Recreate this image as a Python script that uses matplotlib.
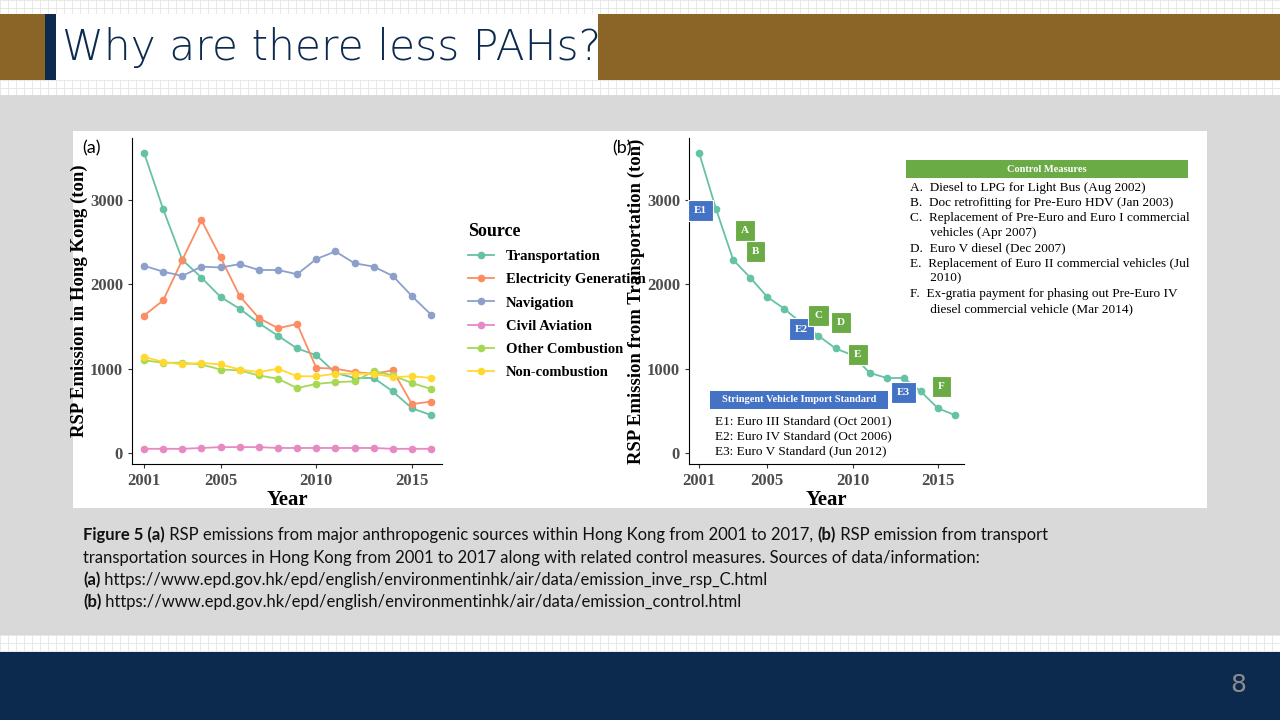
import matplotlib

matplotlib.use("Agg")
import matplotlib.pyplot as plt
from matplotlib.patches import Rectangle
from matplotlib.lines import Line2D

YEARS = list(range(2001, 2017))
TRANSPORT = [3560, 2890, 2290, 2080, 1850, 1710, 1540, 1390, 1240, 1160, 950, 890, 890, 730, 530, 450]
ELECTRICITY = [1630, 1810, 2290, 2760, 2320, 1860, 1600, 1480, 1530, 1010, 1000, 960, 940, 980, 580, 610]
NAVIGATION = [2220, 2150, 2100, 2210, 2200, 2240, 2170, 2170, 2120, 2300, 2390, 2250, 2210, 2100, 1860, 1640]
AVIATION = [50, 50, 50, 60, 70, 70, 70, 60, 60, 60, 60, 60, 60, 50, 50, 50]
OTHER_COMB = [1100, 1070, 1070, 1050, 990, 980, 920, 880, 770, 820, 840, 850, 970, 920, 830, 760]
NON_COMB = [1140, 1080, 1050, 1070, 1050, 990, 960, 1000, 910, 910, 940, 940, 940, 900, 910, 890]

SERIES = [
    ("Transportation", TRANSPORT, "#66C2A5"),
    ("Electricity Generation", ELECTRICITY, "#FC8D62"),
    ("Navigation", NAVIGATION, "#8DA0CB"),
    ("Civil Aviation", AVIATION, "#E78AC3"),
    ("Other Combustion", OTHER_COMB, "#A6D854"),
    ("Non-combustion", NON_COMB, "#FFD92F"),
]

MEASURES = ["E1", "A", "B", "E2", "C", "D", "E", "E3", "F"]
MEASURE_X = [2001.1, 2003.7, 2004.3, 2007.0, 2008.0, 2009.3, 2010.3, 2013.0, 2015.2]
MEASURE_Y = [2880, 2640, 2390, 1470, 1630, 1550, 1170, 720, 790]

CONTROL_TEXT = [
    "A.  Diesel to LPG for Light Bus (Aug 2002)",
    "B.  Doc retrofitting for Pre-Euro HDV (Jan 2003)",
    "C.  Replacement of Pre-Euro and Euro I commercial",
    "      vehicles (Apr 2007)",
    "D.  Euro V diesel (Dec 2007)",
    "E.  Replacement of Euro II commercial vehicles (Jul",
    "      2010)",
    "F.  Ex-gratia payment for phasing out Pre-Euro IV",
    "      diesel commercial vehicle (Mar 2014)",
]
IMPORT_TEXT = [
    "E1: Euro III Standard (Oct 2001)",
    "E2: Euro IV Standard (Oct 2006)",
    "E3: Euro V Standard (Jun 2012)",
]
CAPTION = [
    ("Figure 5 (a)", " RSP emissions from major anthropogenic sources within Hong Kong from 2001 to 2017, ", "(b)", " RSP emission from transport"),
    ("", "transportation sources in Hong Kong from 2001 to 2017 along with related control measures. Sources of data/information:", "", ""),
    ("(a)", " https://www.epd.gov.hk/epd/english/environmentinhk/air/data/emission_inve_rsp_C.html", "", ""),
    ("(b)", " https://www.epd.gov.hk/epd/english/environmentinhk/air/data/emission_control.html", "", ""),
]

W, H = 1280, 720
SERIF = "Liberation Serif"
GREEN = "#6AAB45"
BLUE = "#4472C4"
NAVY = "#0B2A4E"
BROWN = "#8B6428"

fig = plt.figure(figsize=(12.8, 7.2), dpi=100)
bg = fig.add_axes([0, 0, 1, 1])
bg.set_xlim(0, W)
bg.set_ylim(H, 0)
bg.axis("off")


def rect(x0, y0, x1, y1, color):
    bg.add_patch(Rectangle((x0, y0), x1 - x0, y1 - y0, color=color, lw=0, zorder=2))


# grid pattern in header / footer strips
for y0, y1 in [(0, 95), (635, 652)]:
    for x in range(0, W, 8):
        bg.plot([x, x], [y0, y1], color="#E4E4E4", lw=0.6, zorder=0)
    for y in range(y0, y1 + 1, 8):
        bg.plot([0, W], [y, y], color="#E4E4E4", lw=0.6, zorder=0)
rect(0, 95, W, 635, "#D9D9D9")
rect(0, 652, W, H, NAVY)
rect(0, 14, 45, 80, BROWN)
rect(45, 14, 56, 80, NAVY)
rect(598, 14, W, 80, BROWN)
rect(56, 14, 598, 80, "white")
bg.text(62, 47, "Why are there less PAHs?", fontsize=30.5, color=NAVY, zorder=3,
        va="center", ha="left", family="DejaVu Sans", fontweight="light")
bg.text(1238, 685, "8", fontsize=18, color="#8C8C8C", va="center", ha="center", zorder=3)
rect(73, 131, 1207, 508, "white")

# caption
renderer = fig.canvas.get_renderer()
for i, parts in enumerate(CAPTION):
    y = 535 + i * 22.5
    x = 83
    for j, part in enumerate(parts):
        if not part:
            continue
        t = bg.text(x, y, part, fontsize=12, va="center", ha="left", family="Lato", zorder=3,
                    fontweight="bold" if j % 2 == 0 else "normal", color="#111111")
        x += t.get_window_extent(renderer=renderer).width


def px_axes(x0, y0, x1, y1):
    return fig.add_axes([x0 / W, 1 - y1 / H, (x1 - x0) / W, (y1 - y0) / H])


def style(ax, xlim, ylabel):
    ax.set_xlim(*xlim)
    ax.set_ylim(-130, 3735)
    ax.patch.set_alpha(0)
    for s in ["top", "right"]:
        ax.spines[s].set_visible(False)
    ax.set_xticks([2001, 2005, 2010, 2015])
    ax.set_yticks([0, 1000, 2000, 3000])
    ax.tick_params(labelsize=12, colors="#333333", length=3)
    for lab in ax.get_xticklabels() + ax.get_yticklabels():
        lab.set_family(SERIF)
        lab.set_fontweight("bold")
        lab.set_color("#4D4D4D")
    ax.set_xlabel("Year", family=SERIF, fontweight="bold", fontsize=15, labelpad=1)
    ax.set_ylabel(ylabel, family=SERIF, fontweight="bold", fontsize=13.5, labelpad=1)


axa = px_axes(132, 138, 442, 464)
for name, vals, col in SERIES:
    axa.plot(YEARS, vals, "-o", color=col, ms=4.5, lw=1.3, label=name)
style(axa, (2000.37, 2016.57), "RSP Emission in Hong Kong (ton)")
handles = [Line2D([], [], color=c, marker="o", ms=4.5, lw=1.3) for _, _, c in SERIES]
leg = fig.legend(handles, [s[0] for s in SERIES], loc="upper left",
                 bbox_to_anchor=(455 / W, 1 - 210 / H), frameon=False, title="Source",
                 prop={"family": SERIF, "weight": "bold", "size": 10.5},
                 labelspacing=0.68, handlelength=1.8)
leg.get_title().set_fontproperties({"family": SERIF, "weight": "bold", "size": 13})
leg._legend_box.align = "left"

axb = px_axes(689, 138, 964, 464)
axb.plot(YEARS, TRANSPORT, "-o", color="#66C2A5", ms=4.5, lw=1.3)
style(axb, (2000.41, 2016.53), "RSP Emission from Transportation (ton)")
for lab, x, y in zip(MEASURES, MEASURE_X, MEASURE_Y):
    col = BLUE if lab.startswith("E") and len(lab) == 2 else GREEN
    axb.text(x, y, lab, ha="center", va="center", color="white", fontsize=8,
             family=SERIF, fontweight="bold",
             bbox=dict(boxstyle="square,pad=0.55", fc=col, ec="white", lw=0.8))

# overlay for annotation text drawn above the chart axes
top = fig.add_axes([0, 0, 1, 1])
top.set_xlim(0, W)
top.set_ylim(H, 0)
top.axis("off")
top.text(82, 148, "(a)", fontsize=13, va="center", family="Lato")
top.text(612, 148, "(b)", fontsize=13, va="center", family="Lato")
top.add_patch(Rectangle((906, 160), 282, 18, color=GREEN, lw=0))
top.text(1047, 169, "Control Measures", color="white", fontsize=7.5, family=SERIF,
         fontweight="bold", ha="center", va="center")
for i, line in enumerate(CONTROL_TEXT):
    top.text(910, 188 + i * 15.1, line, fontsize=9.5, family=SERIF, va="center", ha="left")
top.add_patch(Rectangle((710, 391), 178, 18, color=BLUE, lw=0))
top.text(799, 400, "Stringent Vehicle Import Standard", color="white", fontsize=7.5,
         family=SERIF, fontweight="bold", ha="center", va="center")
for i, line in enumerate(IMPORT_TEXT):
    top.text(715, 421 + i * 15, line, fontsize=9.5, family=SERIF, va="center", ha="left")

fig.savefig("out.png", dpi=100)
